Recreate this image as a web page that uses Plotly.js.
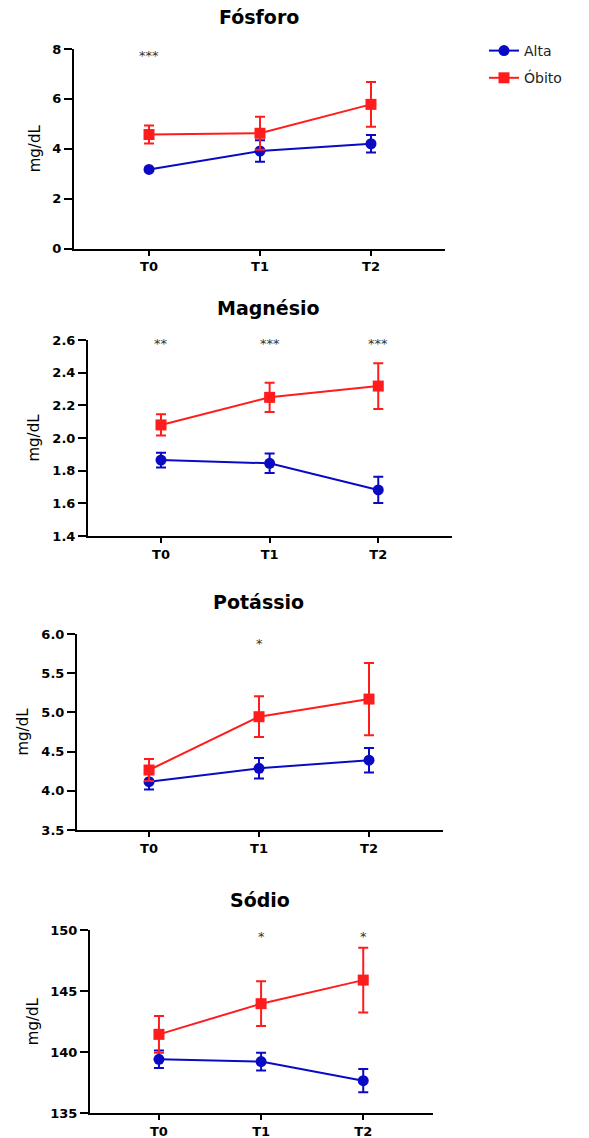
<!DOCTYPE html>
<html>
<head>
<meta charset="utf-8">
<script src="https://cdn.plot.ly/plotly-3.0.1.min.js"></script>
<style>html,body{margin:0;padding:0;background:#fff}#chart{width:589px;height:1138px}</style>
</head>
<body>
<div id="chart"></div>
<script>
// ---- data ----
const timepoints = ["T0", "T1", "T2"];
const seriesNames = ["Alta", "Óbito"];
const panelTitles = ["Fósforo", "Magnésio", "Potássio", "Sódio"];
const yLabel = "mg/dL";

const fosforoAlta = [3.17, 3.91, 4.20];
const fosforoAltaErr = [0.05, 0.43, 0.35];
const fosforoObito = [4.57, 4.62, 5.78];
const fosforoObitoErr = [0.36, 0.66, 0.90];

const magnesioAlta = [1.865, 1.845, 1.682];
const magnesioAltaErr = [0.045, 0.06, 0.08];
const magnesioObito = [2.08, 2.249, 2.318];
const magnesioObitoErr = [0.065, 0.09, 0.14];

const potassioAlta = [4.116, 4.287, 4.39];
const potassioAltaErr = [0.10, 0.13, 0.155];
const potassioObito = [4.265, 4.945, 5.17];
const potassioObitoErr = [0.14, 0.26, 0.46];

const sodioAlta = [139.42, 139.23, 137.67];
const sodioAltaErr = [0.72, 0.73, 0.95];
const sodioObito = [141.46, 143.97, 145.9];
const sodioObitoErr = [1.5, 1.83, 2.65];

const fosforoStars = ["***", "", ""];
const magnesioStars = ["**", "***", "***"];
const potassioStars = ["", "*", ""];
const sodioStars = ["", "*", "*"];

const yTicks = [[0, 2, 4, 6, 8], [1.4, 1.6, 1.8, 2.0, 2.2, 2.4, 2.6], [3.5, 4.0, 4.5, 5.0, 5.5, 6.0], [135, 140, 145, 150]];
const yTickText = [["0","2","4","6","8"], ["1.4","1.6","1.8","2.0","2.2","2.4","2.6"], ["3.5","4.0","4.5","5.0","5.5","6.0"], ["135","140","145","150"]];
const yRanges = [[0, 8], [1.4, 2.6], [3.5, 6.0], [135, 150]];
const starY = [7.85, 2.6, 5.92, 149.7];

// ---- layout geometry (pixels) ----
const W = 589, H = 1138;
const panels = [
  {x0: 74, x1: 445, y0: 49, y1: 248.5, xr: [-0.676, 2.667], tx: 259, ty: 17, sd: 8},
  {x0: 88, x1: 451.7, y0: 340, y1: 536, xr: [-0.672, 2.676], tx: 268, ty: 308, sd: 9},
  {x0: 77, x1: 442.7, y0: 634, y1: 830, xr: [-0.655, 2.67], tx: 258, ty: 602, sd: 9},
  {x0: 90, x1: 432.7, y0: 930, y1: 1113.3, xr: [-0.675, 2.68], tx: 260, ty: 900, sd: 8}
];

const altaData = [[fosforoAlta, fosforoAltaErr], [magnesioAlta, magnesioAltaErr], [potassioAlta, potassioAltaErr], [sodioAlta, sodioAltaErr]];
const obitoData = [[fosforoObito, fosforoObitoErr], [magnesioObito, magnesioObitoErr], [potassioObito, potassioObitoErr], [sodioObito, sodioObitoErr]];
const starsData = [fosforoStars, magnesioStars, potassioStars, sodioStars];

const BLUE = "#0a0ac4";
const RED = "#ff1c1c";
const FONT = "DejaVu Sans, Verdana, sans-serif";
const xIdx = timepoints.map((_, i) => i);

const traces = [];
const layout = {
  width: W, height: H,
  margin: {l: 0, r: 0, t: 0, b: 0},
  paper_bgcolor: "#fff", plot_bgcolor: "#fff",
  font: {family: FONT, color: "#000"},
  showlegend: true,
  legend: {x: 484 / W, y: 1 - 35 / H, xanchor: "left", yanchor: "top",
           font: {size: 14, color: "#222", family: FONT}, bgcolor: "rgba(0,0,0,0)", tracegroupgap: 6},
  annotations: [],
  shapes: []
};

panels.forEach((p, k) => {
  const sfx = k === 0 ? "" : String(k + 1);
  const xa = "x" + sfx, ya = "y" + sfx;
  const [aV, aE] = altaData[k];
  const [oV, oE] = obitoData[k];
  traces.push({
    x: xIdx, y: aV, xaxis: xa, yaxis: ya, name: seriesNames[0], type: "scatter", mode: "lines+markers",
    line: {color: BLUE, width: 2}, marker: {color: BLUE, size: 11, symbol: "circle"},
    error_y: {type: "data", array: aE, visible: true, color: BLUE, thickness: 2, width: 5},
    showlegend: k === 0, legendgroup: "a", cliponaxis: false
  });
  traces.push({
    x: xIdx, y: oV, xaxis: xa, yaxis: ya, name: seriesNames[1], type: "scatter", mode: "lines+markers",
    line: {color: RED, width: 2}, marker: {color: RED, size: 11, symbol: "square"},
    error_y: {type: "data", array: oE, visible: true, color: RED, thickness: 2, width: 5},
    showlegend: k === 0, legendgroup: "o", cliponaxis: false
  });
  layout["xaxis" + sfx] = {
    domain: [p.x0 / W, p.x1 / W], range: p.xr, anchor: ya,
    tickvals: xIdx, ticktext: timepoints, ticks: "outside", ticklen: 5, tickwidth: 2, tickcolor: "#000",
    showline: true, linecolor: "#000", linewidth: 2, showgrid: false, zeroline: false,
    tickfont: {size: 13, color: "#000", family: FONT, weight: "bold"},
    fixedrange: true
  };
  layout["yaxis" + sfx] = {
    domain: [1 - p.y1 / H, 1 - p.y0 / H], range: yRanges[k], anchor: xa,
    tickvals: yTicks[k], ticktext: yTickText[k], ticks: "outside", ticklen: 8, tickwidth: 2, tickcolor: "#000",
    showline: true, linecolor: "#000", linewidth: 2, showgrid: false, zeroline: false,
    tickfont: {size: 13, color: "#000", family: FONT, weight: "bold"},
    title: {text: yLabel, font: {size: 15, color: "#000", family: FONT}, standoff: p.sd},
    fixedrange: true
  };
  layout.annotations.push({
    xref: "paper", yref: "paper", x: p.tx / W, y: 1 - p.ty / H, xanchor: "center", yanchor: "middle",
    text: "<b>" + panelTitles[k] + "</b>", showarrow: false,
    font: {size: 19, color: "#000", family: FONT}
  });
  starsData[k].forEach((s, i) => {
    if (!s) return;
    layout.annotations.push({
      xref: xa, yref: ya, x: i, y: starY[k], xanchor: "center", yanchor: "middle", yshift: -3,
      text: s, showarrow: false, font: {size: 13, color: "#333", family: FONT}
    });
  });
});

Plotly.newPlot("chart", traces, layout, {displayModeBar: false, staticPlot: true});
</script>
</body>
</html>
